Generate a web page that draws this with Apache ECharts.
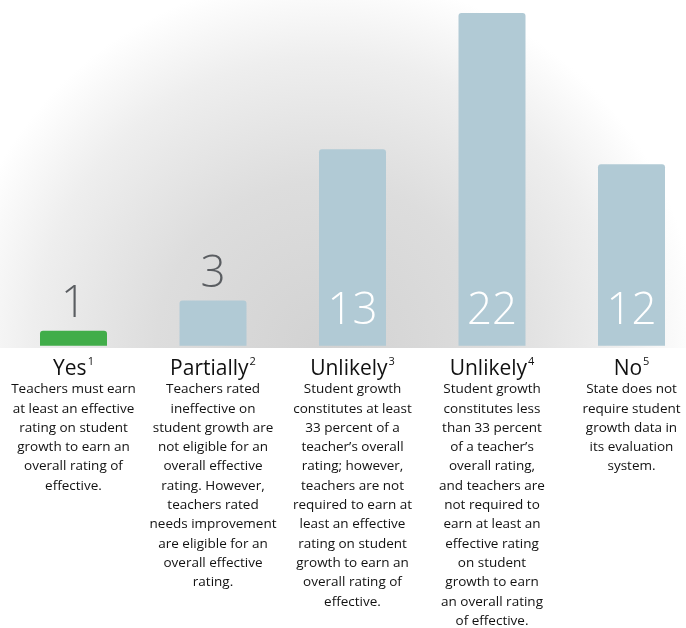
<!DOCTYPE html>
<html><head><meta charset="utf-8">
<script src="https://cdn.jsdelivr.net/npm/echarts@6/dist/echarts.min.js"></script>
<style>html,body{margin:0;padding:0;background:#fff;}#c{width:686px;height:628px;}</style>
</head><body><div id="c"></div>
<script>
const categories = ['Yes', 'Partially', 'Unlikely', 'Unlikely', 'No'];
const footnotes = ['1', '2', '3', '4', '5'];
const values = [1, 3, 13, 22, 12];
const descriptions = [
  ['Teachers must earn', 'at least an effective', 'rating on student', 'growth to earn an', 'overall rating of', 'effective.'],
  ['Teachers rated', 'ineffective on', 'student growth are', 'not eligible for an', 'overall effective', 'rating. However,', 'teachers rated', 'needs improvement', 'are eligible for an', 'overall effective', 'rating.'],
  ['Student growth', 'constitutes at least', '33 percent of a', 'teacher\u2019s overall', 'rating; however,', 'teachers are not', 'required to earn at', 'least an effective', 'rating on student', 'growth to earn an', 'overall rating of', 'effective.'],
  ['Student growth', 'constitutes less', 'than 33 percent', 'of a teacher\u2019s', 'overall rating,', 'and teachers are', 'not required to', 'earn at least an', 'effective rating', 'on student', 'growth to earn', 'an overall rating', 'of effective.'],
  ['State does not', 'require student', 'growth data in', 'its evaluation', 'system.']
];

const FONT = '"Open Sans", sans-serif';
const chart = echarts.init(document.getElementById('c'));

const barData = values.map((v, i) => {
  const small = v < 5;
  return {
    value: v,
    itemStyle: { color: i === 0 ? '#41ad49' : '#b1cad5' },
    label: small
      ? { position: 'top', distance: 4, color: '#5a5d61' }
      : { position: 'insideBottom', distance: 12, color: '#ffffff' }
  };
});

chart.setOption({
  animation: false,
  graphic: [{
    type: 'rect', z: -10, silent: true,
    shape: { x: 0, y: 0, width: 686, height: 348 },
    style: {
      fill: new echarts.graphic.RadialGradient(325, 350, 375, [
        { offset: 0, color: '#d2d2d2' },
        { offset: 0.45, color: '#dddddd' },
        { offset: 0.78, color: '#eeeeee' },
        { offset: 1, color: '#ffffff' }
      ], true)
    }
  }],
  grid: { left: 73.5, right: 54.5, top: 13, bottom: 280, containLabel: false },
  xAxis: {
    type: 'category',
    data: categories,
    boundaryGap: false,
    axisLine: { show: false },
    axisTick: { show: false },
    axisLabel: {
      interval: 0,
      margin: 9,
      align: 'center',
      verticalAlign: 'top',
      formatter: (val, idx) => {
        let s = '{t|' + val + '}{s|' + footnotes[idx] + '}';
        descriptions[idx].forEach(l => { s += '\n{d|' + l + '}'; });
        return s;
      },
      rich: {
        t: { fontFamily: FONT, fontSize: 21, color: '#111', lineHeight: 25, verticalAlign: 'bottom' },
        s: { fontFamily: FONT, fontSize: 11, color: '#111', lineHeight: 25, verticalAlign: 'top', padding: [2, 0, 0, 1] },
        d: { fontFamily: FONT, fontSize: 13.5, color: '#111', lineHeight: 19.3, align: 'center' }
      }
    }
  },
  yAxis: {
    type: 'value', min: 0, max: 22,
    show: false, splitLine: { show: false }
  },
  series: [{
    type: 'bar',
    data: barData,
    barWidth: 67,
    itemStyle: { borderRadius: [3, 3, 0, 0] },
    label: { show: true, fontFamily: FONT, fontSize: 44, fontWeight: 300 }
  }]
});
</script></body></html>
